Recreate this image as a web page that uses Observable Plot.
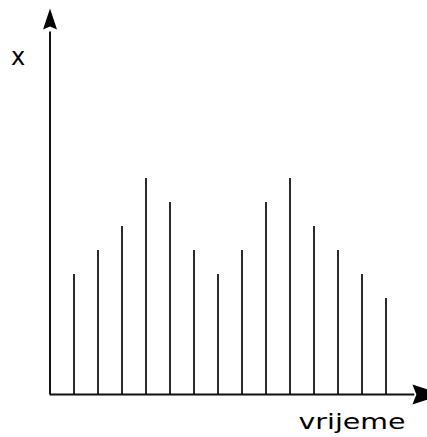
<!DOCTYPE html>
<html>
<head>
<meta charset="utf-8">
<script src="https://cdn.jsdelivr.net/npm/d3@7"></script>
<script src="https://cdn.jsdelivr.net/npm/@observablehq/plot@0.6"></script>
<style>
  html, body { margin: 0; padding: 0; background: #fff; }
</style>
</head>
<body>
<div id="chart"></div>
<script>
// Samples (time index -> value)
const timeIndex = [1, 2, 3, 4, 5, 6, 7, 8, 9, 10, 11, 12, 13, 14];
const values = [5, 6, 7, 9, 8, 6, 5, 6, 8, 9, 7, 6, 5, 4];
const yLabel = "x";
const xLabel = "vrijeme";

const samples = timeIndex.map((t, i) => ({t, v: values[i]}));

// filled arrowhead with a notch, pointing up, anchored at the wings
function arrowHead(L, W, n) {
  return {
    draw(ctx) {
      ctx.moveTo(0, -L);
      ctx.lineTo(W / 2, 0);
      ctx.lineTo(0, -n);
      ctx.lineTo(-W / 2, 0);
      ctx.closePath();
    }
  };
}

const chart = Plot.plot({
  width: 427,
  height: 437,
  marginLeft: 49.5,
  marginRight: 17.5,
  marginTop: 10,
  marginBottom: 43,
  x: {domain: [0, 15], axis: null},
  y: {domain: [0, 16], axis: null},
  style: {fontFamily: "DejaVu Sans, Verdana, sans-serif", background: "#fff"},
  marks: [
    // stems
    Plot.ruleX(samples, {x: "t", y1: 0, y2: "v", stroke: "#2a2a2a", strokeWidth: 2}),
    // axes
    Plot.ruleX([0], {y1: 0, y2: 15.1, stroke: "#111", strokeWidth: 2}),
    Plot.ruleY([0], {x1: 0, x2: 15.2, stroke: "#111", strokeWidth: 2}),
    // arrowheads
    Plot.dot([0], {x: 0, y: 15.21, symbol: arrowHead(21, 14, 3), fill: "#000", stroke: "none"}),
    Plot.dot([0], {x: 15.1, y: 0, symbol: arrowHead(30, 20, 4), rotate: 90, fill: "#000", stroke: "none"}),
    // labels
    Plot.text([yLabel], {x: 0, y: (394 - 64) / 24, dx: -32, text: d => d, fontSize: 24, textAnchor: "middle", lineAnchor: "bottom", fill: "#000"}),
    Plot.text([xLabel], {x: (298 - 49.5) / 24, y: -34 / 24, text: d => d, fontSize: 22, textAnchor: "start", lineAnchor: "bottom", fill: "#000"})
  ]
});

d3.select(chart).selectAll("text").each(function () {
  if (this.textContent === xLabel) {
    this.setAttribute("textLength", 107);
    this.setAttribute("lengthAdjust", "spacingAndGlyphs");
  }
});

document.getElementById("chart").appendChild(chart);
</script>
</body>
</html>
